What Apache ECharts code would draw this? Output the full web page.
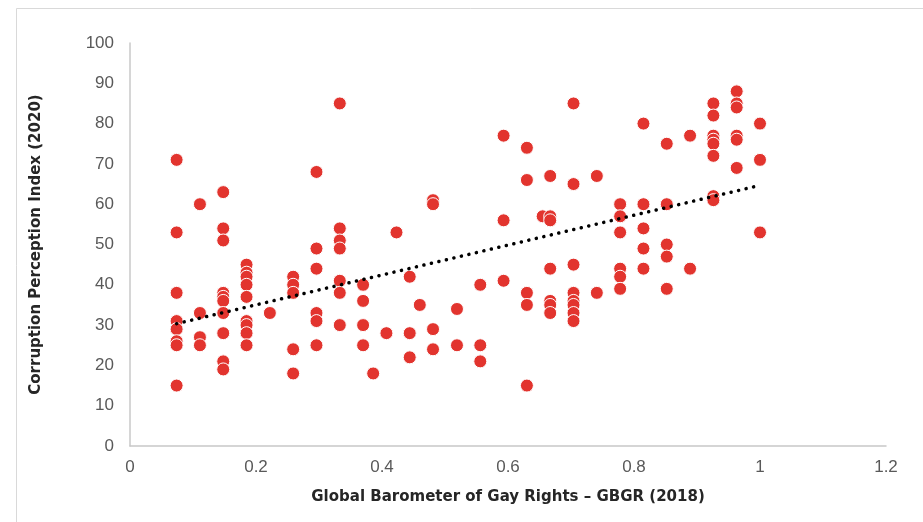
<!DOCTYPE html>
<html>
<head>
<meta charset="utf-8">
<title>GBGR vs CPI</title>
<script src="https://cdn.jsdelivr.net/npm/echarts@6/dist/echarts.min.js"></script>
<style>
  html, body { margin: 0; padding: 0; background: #fff; }
  #chart { width: 923px; height: 522px; }
</style>
</head>
<body>
<div id="chart"></div>
<script>
// GBGR score levels (x) and the CPI values (y) of the countries at each level
const gbgrLevels = [0.074, 0.111, 0.148, 0.185, 0.222, 0.259, 0.296, 0.333, 0.37, 0.386,
  0.407, 0.423, 0.444, 0.46, 0.481, 0.519, 0.556, 0.593, 0.63, 0.655,
  0.667, 0.704, 0.741, 0.778, 0.815, 0.852, 0.889, 0.926, 0.963, 1.0]
const cpiByLevel = [
  [71, 53, 38, 31, 29, 26, 25, 15],
  [60, 33, 27, 25],
  [63, 54, 51, 38, 37, 36, 33, 28, 21, 19],
  [45, 43, 42, 40, 37, 31, 30, 28, 25],
  [33],
  [42, 40, 38, 24, 18],
  [68, 49, 44, 33, 31, 25],
  [85, 54, 51, 49, 41, 38, 30],
  [40, 36, 30, 25],
  [18],
  [28],
  [53],
  [42, 28, 22],
  [35],
  [61, 60, 29, 24],
  [34, 25],
  [40, 25, 21],
  [77, 56, 41],
  [74, 66, 38, 35, 15],
  [57],
  [67, 57, 56, 44, 36, 35, 33],
  [85, 65, 45, 38, 36, 35, 33, 31],
  [67, 38],
  [60, 57, 53, 44, 42, 39],
  [80, 60, 54, 49, 44],
  [75, 60, 50, 47, 39],
  [77, 44],
  [85, 82, 77, 76, 75, 72, 62, 61],
  [88, 85, 84, 77, 76, 69],
  [80, 71, 53]
]
const xTitle = 'Global Barometer of Gay Rights – GBGR (2018)'
const yTitle = 'Corruption Perception Index (2020)'

const points = []
gbgrLevels.forEach((x, i) => {
  cpiByLevel[i].forEach(y => points.push([x, y]))
})

// linear trendline (least squares)
const n = points.length
let sx = 0, sy = 0, sxx = 0, sxy = 0
points.forEach(([x, y]) => { sx += x; sy += y; sxx += x * x; sxy += x * y })
const slope = (n * sxy - sx * sy) / (n * sxx - sx * sx)
const intercept = (sy - slope * sx) / n
const xMin = Math.min(...gbgrLevels)
const xMax = Math.max(...gbgrLevels)
const trend = [[xMin, intercept + slope * xMin], [xMax, intercept + slope * xMax]]

const chart = echarts.init(document.getElementById('chart'))

const titleStyle = { fontFamily: 'DejaVu Sans', fontWeight: 'bold', fontSize: 15, color: '#262626' }
const tickStyle = {
  fontFamily: 'Liberation Sans Narrow, Liberation Sans, sans-serif',
  fontSize: 17,
  color: '#595959'
}

const option = {
  animation: false,
  backgroundColor: '#fff',
  graphic: [
    {
      type: 'rect',
      shape: { x: 16.5, y: 8.5, width: 940, height: 540 },
      style: { fill: 'none', stroke: '#D9D9D9', lineWidth: 1 },
      silent: true
    }
  ],
  grid: { left: 130, right: 37, top: 43, bottom: 76 },
  xAxis: {
    type: 'value',
    min: 0,
    max: 1.2,
    interval: 0.2,
    name: xTitle,
    nameLocation: 'middle',
    nameGap: 44,
    nameTextStyle: titleStyle,
    axisLine: { show: true, lineStyle: { color: '#C8C8C8', width: 1.5 } },
    axisTick: { show: false },
    splitLine: { show: false },
    axisLabel: Object.assign({ margin: 13, formatter: v => String(Math.round(v * 10) / 10) }, tickStyle)
  },
  yAxis: {
    type: 'value',
    min: 0,
    max: 100,
    interval: 10,
    name: yTitle,
    nameLocation: 'middle',
    nameGap: 86,
    nameRotate: 90,
    nameTextStyle: titleStyle,
    axisLine: { show: true, lineStyle: { color: '#C8C8C8', width: 1.5 } },
    axisTick: { show: false },
    splitLine: { show: false },
    axisLabel: Object.assign({ margin: 16 }, tickStyle)
  },
  series: [
    {
      name: 'Countries',
      type: 'scatter',
      data: points,
      symbolSize: 13,
      itemStyle: { color: '#E2342E', borderColor: '#fff', borderWidth: 1, opacity: 1 },
      z: 2
    },
    {
      name: 'Trend',
      type: 'line',
      data: trend,
      showSymbol: false,
      symbol: 'none',
      lineStyle: { color: '#000', width: 3.5, type: [0.1, 7.6], cap: 'round' },
      z: 3
    }
  ]
}

chart.setOption(option)
</script>
</body>
</html>
